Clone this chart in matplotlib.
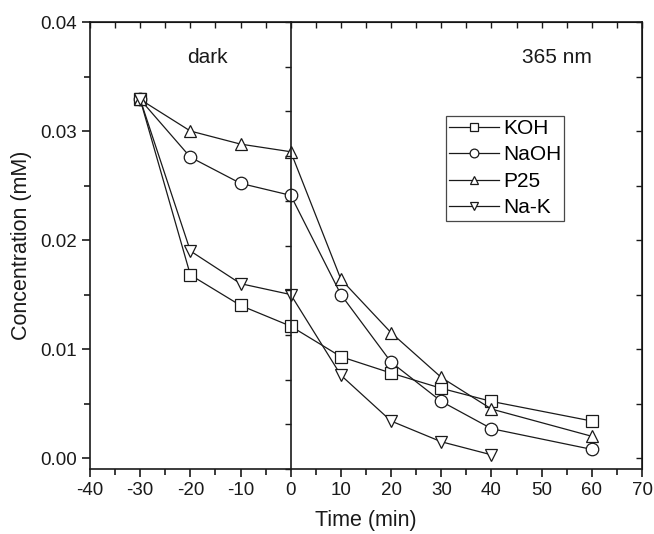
import matplotlib
matplotlib.use('Agg')
import matplotlib.pyplot as plt
from matplotlib.ticker import MultipleLocator, NullFormatter

plt.rcParams['font.family'] = ['Liberation Sans', 'DejaVu Sans']
plt.rcParams['axes.unicode_minus'] = False

times = [-30, -20, -10, 0, 10, 20, 30, 40, 60]
times_nak = [-30, -20, -10, 0, 10, 20, 30, 40]

koh = [0.0329, 0.0168, 0.0140, 0.0121, 0.0093, 0.0078, 0.0064, 0.0052, 0.0034]
naoh = [0.0329, 0.0276, 0.0252, 0.0241, 0.0150, 0.0088, 0.0052, 0.0027, 0.0008]
p25 = [0.0329, 0.0300, 0.0288, 0.0281, 0.0164, 0.0115, 0.0074, 0.0045, 0.0020]
nak = [0.0329, 0.0190, 0.0160, 0.0150, 0.0076, 0.0034, 0.0015, 0.0003]

series = [
    ('KOH', times, koh, 's'),
    ('NaOH', times, naoh, 'o'),
    ('P25', times, p25, '^'),
    ('Na-K', times_nak, nak, 'v'),
]

ink = '#1a1a1a'

fig = plt.figure(figsize=(6.54, 5.34), dpi=100)
ax = fig.add_axes([0.1376, 0.1217, 0.8441, 0.8371])

for name, x, y, m in series:
    ax.plot(x, y, color=ink, lw=0.9, marker=m, ms=9 if m != 's' else 8,
            mfc='white', mec=ink, mew=0.9, label=name)

ax.set_xlim(-40, 70)
ax.set_ylim(-0.001, 0.04)
ax.xaxis.set_major_locator(MultipleLocator(10))
ax.xaxis.set_minor_locator(MultipleLocator(5))
ax.yaxis.set_major_locator(MultipleLocator(0.01))
ax.yaxis.set_minor_locator(MultipleLocator(0.005))
ax.yaxis.set_major_formatter(plt.FuncFormatter(lambda v, p: '%.2f' % v))

ax.tick_params(which='both', direction='out', top=False, right=False,
               labelsize=13.5, colors=ink, width=1.2)
ax.tick_params(which='major', length=6)
ax.tick_params(which='minor', length=4)

for s in ax.spines.values():
    s.set_linewidth(1.2)
    s.set_color(ink)

# inward ticks on top and right
axt = ax.secondary_xaxis('top')
axt.xaxis.set_major_locator(MultipleLocator(5))
axt.tick_params(direction='in', length=4, width=1.0, labeltop=False, colors=ink)
axr = ax.secondary_yaxis('right')
axr.yaxis.set_major_locator(MultipleLocator(0.005))
axr.tick_params(direction='in', length=4, width=1.0, labelright=False, colors=ink)

# dividing line at t = 0 with its own ticks
ax2 = ax.twinx()
ax2.set_ylim(0, 10)
ax2.spines['right'].set_position(('data', 0))
ax2.spines['right'].set_linewidth(1.2)
ax2.spines['right'].set_color(ink)
for k in ['top', 'left', 'bottom']:
    ax2.spines[k].set_visible(False)
ax2.yaxis.set_major_locator(MultipleLocator(1))
ax2.yaxis.set_major_formatter(NullFormatter())
ax2.tick_params(direction='in', length=4, width=1.0, colors=ink)

ax.text(-16.5, 0.0367, 'dark', ha='center', va='center', fontsize=15, color=ink)
ax.text(53, 0.0367, '365 nm', ha='center', va='center', fontsize=15, color=ink)

ax.set_xlabel('Time (min)', fontsize=15.5, color=ink, labelpad=8)
ax.set_ylabel('Concentration (mM)', fontsize=15.5, color=ink, labelpad=6)

leg = ax.legend(loc='upper left', bbox_to_anchor=(0.644, 0.79), fontsize=15,
                frameon=True, fancybox=False, edgecolor=ink,
                handlelength=2.4, handletextpad=0.2, borderpad=0.15,
                labelspacing=0.36, markerscale=0.7, borderaxespad=0)
leg.get_frame().set_linewidth(0.9)
leg.set_zorder(5)

fig.savefig('out.png', dpi=100)
